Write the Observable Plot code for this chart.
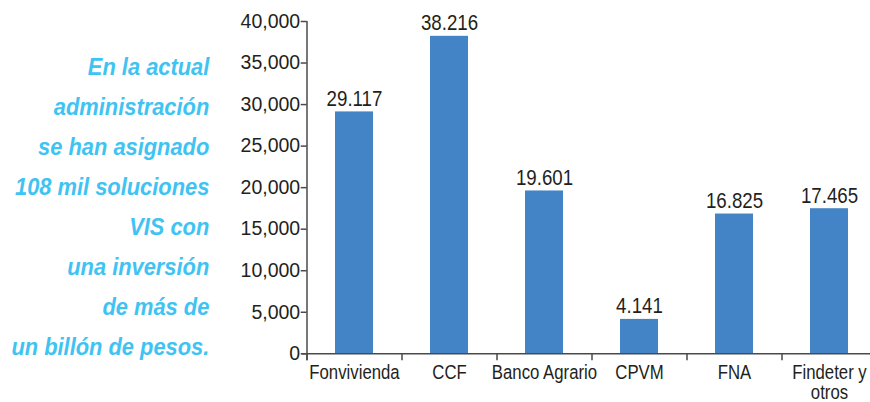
<!DOCTYPE html>
<html><head><meta charset="utf-8">
<script src="https://cdn.jsdelivr.net/npm/d3@7"></script>
<script src="https://cdn.jsdelivr.net/npm/@observablehq/plot@0.6"></script>
<style>
html,body{margin:0;padding:0;background:#fff;overflow:hidden;width:870px;height:402px}
#wrap{position:relative;width:870px;height:402px;overflow:hidden}
#note{position:absolute;right:661px;top:47px;text-align:right;font:italic bold 23px/40px "Liberation Sans",Arial,sans-serif;color:#3fc3f2;white-space:nowrap;transform:scaleX(0.95);transform-origin:right top}
#chart{position:absolute;left:0;top:0}
</style></head><body>
<div id="wrap"><div id="chart"></div><div id="note"></div></div>
<script>
const categories = ["Fonvivienda","CCF","Banco Agrario","CPVM","FNA","Findeter y otros"];
const xLabels = ["Fonvivienda","CCF","Banco Agrario","CPVM","FNA","Findeter y\notros"];
const values = [29117,38216,19601,4141,16825,17465];
const yTicks = [0,5000,10000,15000,20000,25000,30000,35000,40000];
const noteLines = ["En la actual","administración","se han asignado","108 mil soluciones","VIS con","una inversión","de más de","un billón de pesos."];

document.getElementById("note").innerHTML = noteLines.join("<br>");

const data = categories.map((c,i)=>({cat:c, value:values[i], label:xLabels[i]}));
const esFmt = d3.formatLocale({decimal:",", thousands:".", grouping:[3], currency:["$",""]}).format(",");

const W = 870, H = 402, ML = 306.7, MT = 21, MB = 48.7, MR = -6.7;
const bw = (W - ML - MR) / categories.length;
const axisColor = "#4a4a4a";

const chart = Plot.plot({
  width: W, height: H,
  marginLeft: ML, marginRight: MR, marginTop: MT, marginBottom: MB,
  style: {fontFamily: "'Liberation Sans',Arial,sans-serif", color: "#231f20", maxWidth: "none", overflow: "hidden", background: "white"},
  x: {type: "band", domain: categories, paddingInner: 0.6, paddingOuter: 0.3, axis: null},
  y: {domain: [0, 40000], axis: null},
  marks: [
    Plot.barY(data, {x: "cat", y: "value", fill: "#4284c6"}),
    Plot.text(data, {x: "cat", y: "value", text: d => esFmt(d.value), dy: -6, lineAnchor: "bottom", fontSize: 22, fill: "#231f20"}),
    Plot.ruleY([0], {insetLeft: -5, stroke: axisColor, strokeWidth: 1.5}),
    Plot.ruleX([categories[0]], {x: d => d, dx: -bw/2, y1: () => yTicks[yTicks.length-1], y2: () => 0, insetBottom: -7, stroke: axisColor, strokeWidth: 1.5}),
    Plot.ruleX(categories, {x: d => d, dx: -bw/2, y1: () => 0, y2: () => 0, insetBottom: -7, stroke: axisColor, strokeWidth: 1.5}),
    Plot.axisY({ticks: yTicks, tickSize: 6, tickPadding: 1, tickFormat: d3.format(","), fontSize: 19.5, label: null, stroke: axisColor, strokeWidth: 1.5}),
    Plot.axisX({tickSize: 0, tickPadding: 11, tickFormat: d => xLabels[categories.indexOf(d)], fontSize: 19.5, lineHeight: 1.02, label: null})
  ]
});
document.getElementById("chart").appendChild(chart);

// condense the label glyphs horizontally (narrow typeface look)
function condense(sel, k) {
  chart.querySelectorAll(sel).forEach(t => {
    const tr = t.getAttribute("transform") || "";
    t.setAttribute("transform", tr + ` scale(${k},1)`);
  });
}
condense('g[aria-label="text"] text', 0.85);
condense('g[aria-label="x-axis tick label"] text', 0.86);
</script>
</body></html>
